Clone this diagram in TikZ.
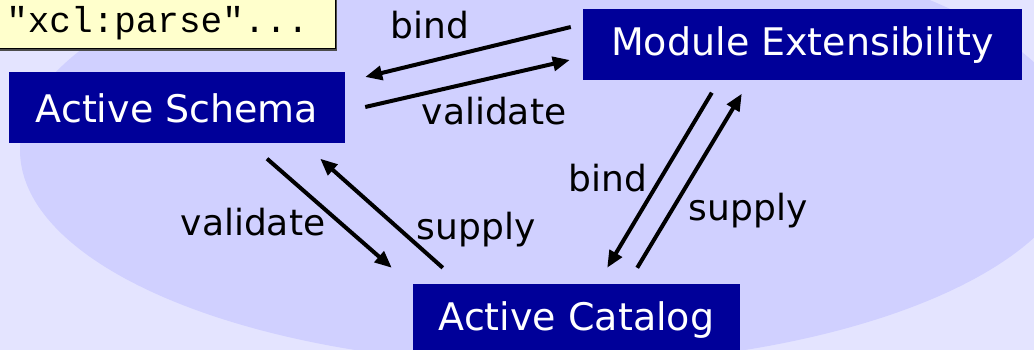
\documentclass[tikz,border=0pt]{standalone}
\usepackage{fontspec}
\setmainfont{DejaVu Sans}
\setmonofont{Liberation Mono}
\usetikzlibrary{arrows.meta,shadows}
\definecolor{bgout}{HTML}{E4E4FF}
\definecolor{bgin}{HTML}{D0D0FF}
\definecolor{boxblue}{HTML}{000099}
\definecolor{noteyellow}{HTML}{FFFFCC}
\tikzset{
  block/.style={fill=boxblue, text=white, inner sep=0pt, minimum height=71pt, font=\fontsize{38}{44}\selectfont},
  flow/.style={line width=4pt, -{Triangle[length=17pt,width=14pt]}},
  lbl/.style={font=\fontsize{36}{42}\selectfont, anchor=base},
}
\begin{document}
\begin{tikzpicture}[x=1pt,y=-1pt]
  \useasboundingbox (0,0) rectangle (1034,350);
  \fill[bgout] (0,0) rectangle (1034,350);
  \fill[bgin] (550,150) ellipse [x radius=530, y radius=215];
  % boxes
  \node[block, minimum width=336pt] (schema) at (177,108) {Active Schema};
  \node[block, minimum width=439pt] (module) at (802.5,45) {Module Extensibility};
  \node[block, minimum width=327pt, minimum height=72pt] (catalog) at (576.5,320) {Active Catalog};
  \node[draw, line width=1pt, fill=noteyellow, drop shadow={shadow xshift=2pt, shadow yshift=-2pt, fill=black!70, opacity=1},
        minimum width=355pt, minimum height=52pt, inner sep=0pt, font=\ttfamily\fontsize{36}{40}\selectfont] (note) at (157.5,23) {"xcl:parse"...};
  % arrows
  \draw[flow] ([shift={(-12,-18)}]module.west) -- ([shift={(20,-31)}]schema.east);
  \draw[flow] ([shift={(20,-1)}]schema.east) -- ([shift={(-13,15)}]module.west);
  \draw[flow] ([shift={(90,15)}]schema.south) -- ([shift={(-21,-16)}]catalog.north west);
  \draw[flow] ([shift={(30,-16)}]catalog.north west) -- ([shift={(-25,15)}]schema.south east);
  \draw[flow] ([shift={(129,12)}]module.south west) -- ([shift={(-133,-16)}]catalog.north east);
  \draw[flow] ([shift={(-103,-16)}]catalog.north east) -- ([shift={(159,13)}]module.south west);
  % labels
  \node[lbl] (bindtop) at (430,39) {bind};
  \node[lbl] (valtop) at (494,125) {validate};
  \node[lbl] (valleft) at (253,235) {validate};
  \node[lbl] (supleft) at (476,240) {supply};
  \node[lbl] (bindright) at (608,192) {bind};
  \node[lbl] (supright) at (748,220) {supply};
\end{tikzpicture}
\end{document}
